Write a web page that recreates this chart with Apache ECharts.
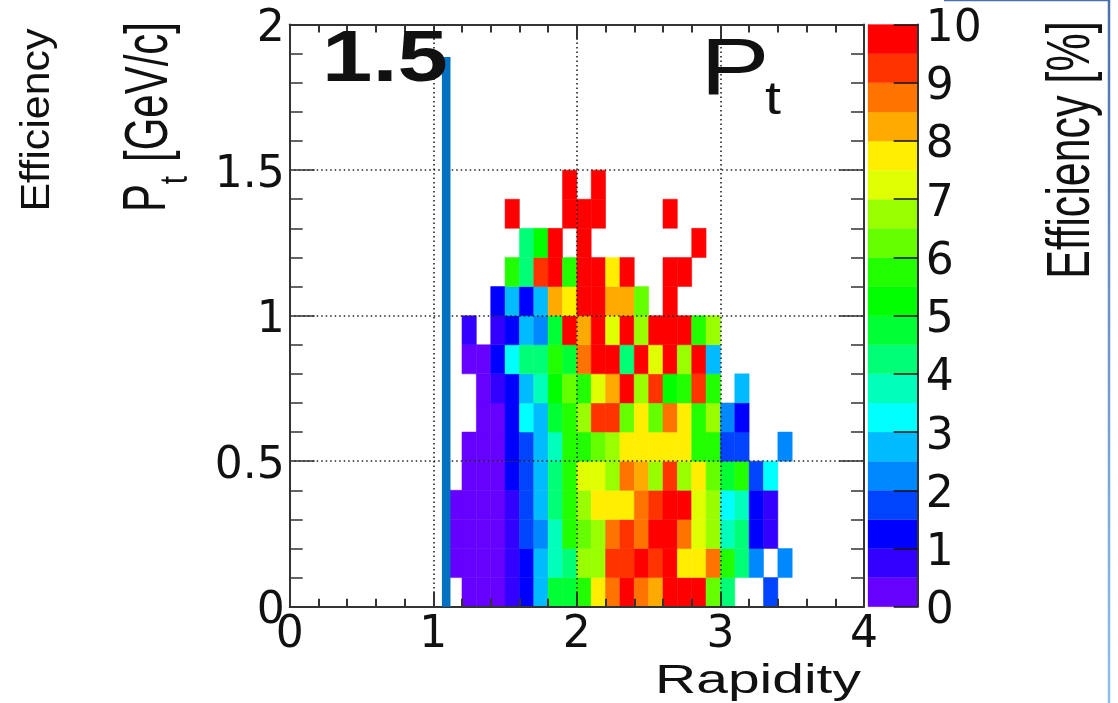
<!DOCTYPE html>
<html>
<head>
<meta charset="utf-8">
<style>html,body{margin:0;padding:0;background:#fff}#c{width:1118px;height:703px;filter:blur(0.5px)}</style>
<script src="https://cdn.jsdelivr.net/npm/echarts@6/dist/echarts.min.js"></script>
</head>
<body>
<div id="c"></div>
<script>
const n = null;
// Bin lower edges (bin width 0.1 on both axes)
const rapidityBins = [1.1,1.2,1.3,1.4,1.5,1.6,1.7,1.8,1.9,2.0,2.1,2.2,2.3,2.4,2.5,2.6,2.7,2.8,2.9,3.0,3.1,3.2,3.3,3.4];
const ptBins = [0,0.1,0.2,0.3,0.4,0.5,0.6,0.7,0.8,0.9,1.0,1.1,1.2,1.3,1.4];
// Efficiency [%] per Pt row, one value per rapidity bin
const eff00 = [n,.25,.25,.25,.75,1.25,2.75,4.75,4.75,5.75,7.75,8.75,9.75,8.75,8.25,9.75,9.75,9.75,6.25,4.25,n,n,1.75,n];
const eff01 = [.25,.25,.25,.25,.75,1.25,2.75,3.75,4.25,6.75,6.75,9.25,9.25,9.75,9.25,9.75,7.75,7.75,8.75,5.75,4.25,2.25,n,2.25];
const eff02 = [.25,.25,.25,.25,.75,1.75,2.25,3.75,5.75,6.25,6.75,8.75,9.25,8.75,9.75,9.75,8.75,7.25,6.75,3.75,4.25,1.25,.75,n];
const eff03 = [.25,.25,.25,.25,.75,1.75,2.75,4.25,5.75,6.75,7.75,7.75,7.75,8.75,9.25,9.75,9.75,7.25,6.75,3.25,3.75,1.25,.75,n];
const eff04 = [n,.25,.25,.25,1.25,1.75,2.75,4.25,5.75,7.25,7.25,6.75,8.75,8.25,6.75,9.25,6.75,7.75,6.25,4.75,5.75,1.75,3.25,n];
const eff05 = [n,.25,.25,.25,1.25,1.75,2.75,3.75,5.75,5.75,6.25,6.75,7.75,7.75,7.75,7.75,7.75,5.75,5.75,1.75,1.75,n,n,2.25];
const eff06 = [n,n,.25,.25,1.25,3.25,2.75,4.75,5.75,6.75,9.25,9.25,6.25,7.75,6.25,8.75,7.75,5.75,6.75,2.25,1.25,n,n,n];
const eff07 = [n,n,.25,.75,1.25,2.75,3.75,5.25,6.25,5.75,7.25,8.25,9.75,6.75,9.25,5.25,5.75,9.25,5.75,n,2.75,n,n,n];
const eff08 = [n,.25,.25,1.25,3.25,4.25,4.25,5.75,4.75,8.75,9.75,9.75,4.25,9.75,7.25,9.75,6.75,9.75,2.75,n,n,n,n,n];
const eff09 = [n,.75,n,.75,1.25,2.75,2.25,4.75,9.75,8.25,9.75,7.25,9.75,6.75,9.75,9.75,9.75,5.75,6.75,n,n,n,n,n];
const eff10 = [n,n,n,1.25,2.75,1.25,2.75,8.25,7.75,9.75,9.75,8.25,8.25,6.25,n,9.75,n,n,n,n,n,n,n,n];
const eff11 = [n,n,n,n,5.75,4.25,9.25,9.75,5.75,9.75,9.75,7.75,9.75,n,n,9.75,9.75,n,n,n,n,n,n,n];
const eff12 = [n,n,n,n,n,4.25,5.25,9.75,n,9.75,n,n,n,n,n,n,n,9.75,n,n,n,n,n,n];
const eff13 = [n,n,n,n,9.75,n,n,n,9.75,9.75,9.75,n,n,n,n,9.75,n,n,n,n,n,n,n,n];
const eff14 = [n,n,n,n,n,n,n,n,9.75,n,9.75,n,n,n,n,n,n,n,n,n,n,n,n,n];
const effRows = [eff00,eff01,eff02,eff03,eff04,eff05,eff06,eff07,eff08,eff09,eff10,eff11,eff12,eff13,eff14];
// Colour bands of the scale, bottom (0) to top (10), each 0.5 wide
const bandColors = ['#6600ff','#3300ff','#0000ff','#0044ff','#0088ff','#00bbff','#00ffff','#00ffbb','#00ff77','#00ff33',
                    '#00ff00','#22ff00','#66ff00','#99ff00','#e0ff00','#ffee00','#ffaa00','#ff7300','#ff3300','#ff0000'];
const bandStarts = [0,.5,1,1.5,2,2.5,3,3.5,4,4.5,5,5.5,6,6.5,7,7.5,8,8.5,9,9.5];
// Vertical marker line (rapidity, Pt)
const markerLine = [[1.09,0],[1.09,1.889]];

const binW = 0.1, bandW = 0.5;
const cells = [];
effRows.forEach((row,j)=>row.forEach((v,i)=>{ if(v!==null) cells.push([rapidityBins[i],ptBins[j],v]); }));
const colorOf = v => bandColors[Math.min(bandColors.length-1,Math.floor(v/bandW))];

const tickFont = {fontFamily:'DejaVu Sans',fontSize:44,color:'#111'};
const axisDark = '#333';
const G = {left:289.7,top:24.6,width:574.3,height:582.1};
const dotted = {show:true,lineStyle:{color:'#222',width:1.6,type:[1.5,3]}};
const shifted = {a:Object.assign({padding:[10,0,0,0]},tickFont)};

function txt(s,x,y,size,o){o=o||{};return {type:'text',x:x,y:y,rotation:o.rot||0,scaleX:o.sx||1,scaleY:o.sy||1,z:20,silent:true,
  style:{text:s,fontFamily:'Liberation Sans',fontSize:size,fontWeight:o.w||'normal',fill:o.c||'#111',align:'center',verticalAlign:'middle'}};}
const R = Math.PI/2;

const chart = echarts.init(document.getElementById('c'));
chart.setOption({
  animation:false,
  backgroundColor:'#fff',
  grid:[
    {left:G.left,top:G.top,width:G.width,height:G.height},
    {left:868,top:G.top,width:49.7,height:G.height}
  ],
  xAxis:[
    {type:'value',gridIndex:0,min:0,max:4,interval:1,position:'bottom',z:3,
     axisLine:{onZero:false,lineStyle:{color:axisDark,width:2}},
     axisTick:{inside:true,length:15,lineStyle:{color:axisDark,width:2}},
     minorTick:{show:true,splitNumber:5,length:8,lineStyle:{color:axisDark,width:2}},
     splitLine:dotted,axisLabel:Object.assign({margin:7,formatter:v=>String(v),showMinLabel:true,showMaxLabel:true},tickFont)},
    {type:'value',gridIndex:0,min:0,max:4,interval:1,position:'top',z:3,
     axisLine:{onZero:false,lineStyle:{color:axisDark,width:2}},
     axisTick:{inside:true,length:15,lineStyle:{color:axisDark,width:2}},
     minorTick:{show:true,splitNumber:5,length:8,lineStyle:{color:axisDark,width:2}},
     splitLine:{show:false},axisLabel:{show:false}},
    {type:'value',gridIndex:1,min:0,max:1,show:false}
  ],
  yAxis:[
    {type:'value',gridIndex:0,min:0,max:2,interval:0.5,position:'left',z:3,
     axisLine:{onZero:false,lineStyle:{color:axisDark,width:2}},
     axisTick:{inside:true,length:25,lineStyle:{color:axisDark,width:1.5}},
     minorTick:{show:true,splitNumber:5,length:13,lineStyle:{color:axisDark,width:1.5}},
     splitLine:dotted,axisLabel:{margin:5,formatter:v=>'{a|'+v+'}',showMinLabel:true,showMaxLabel:true,rich:shifted}},
    {type:'value',gridIndex:0,min:0,max:2,interval:0.5,position:'right',z:3,
     axisLine:{onZero:false,lineStyle:{color:axisDark,width:2}},
     axisTick:{inside:true,length:25,lineStyle:{color:axisDark,width:1.5}},
     minorTick:{show:true,splitNumber:5,length:13,lineStyle:{color:axisDark,width:1.5}},
     splitLine:{show:false},axisLabel:{show:false}},
    {type:'value',gridIndex:1,min:0,max:10,interval:1,position:'right',z:3,
     axisLine:{onZero:false,lineStyle:{color:axisDark,width:2}},
     axisTick:{inside:true,length:24,lineStyle:{color:'#111',width:1.5}},
     splitLine:{show:false},axisLabel:{margin:8,formatter:v=>'{a|'+v+'}',showMinLabel:true,showMaxLabel:true,rich:shifted}}
  ],
  series:[
    {type:'custom',name:'Efficiency',xAxisIndex:0,yAxisIndex:0,z:2,clip:true,data:cells,encode:{x:0,y:1},
     renderItem:(p,api)=>{
       const x=api.value(0),y=api.value(1),v=api.value(2);
       const a=api.coord([x,y+binW]),b=api.coord([x+binW,y]);
       return {type:'rect',shape:{x:a[0],y:a[1],width:b[0]-a[0],height:b[1]-a[1]},style:{fill:colorOf(v),stroke:colorOf(v),lineWidth:0.5}};
     }},
    {type:'line',name:'Marker',xAxisIndex:0,yAxisIndex:0,z:6,data:markerLine,symbol:'none',
     lineStyle:{color:'#0070c0',width:8.6,cap:'butt'}},
    {type:'custom',name:'Scale',xAxisIndex:2,yAxisIndex:2,z:2,data:bandStarts.map((s,i)=>[s,i]),
     renderItem:(p,api)=>{
       const s=api.value(0),i=api.value(1);
       const a=api.coord([0,s+bandW]),b=api.coord([1,s]);
       return {type:'rect',shape:{x:a[0],y:a[1],width:b[0]-a[0],height:b[1]-a[1]},style:{fill:bandColors[i],stroke:bandColors[i],lineWidth:0.3}};
     }}
  ],
  graphic:[
    txt('Efficiency',38,120,43,{rot:R,sy:0.95}),
    txt('P',148,198,42,{rot:R,sy:1.45}),
    txt('t',176,180,30,{rot:R,sy:1.3}),
    txt('[GeV/c]',150,92,42,{rot:R,sy:1.45}),
    txt('Efficiency [%]',1072,150,43,{rot:R,sy:1.4}),
    txt('Rapidity',758,682,41,{sx:1.39}),
    txt('1.5',385,61,73,{w:'bold',sx:1.24}),
    txt('P',735,72,80,{sx:1.3}),
    txt('t',773,101,46,{sx:1.25}),
    {type:'line',z:20,silent:true,shape:{x1:944,y1:0.5,x2:1109,y2:0.5},style:{stroke:'#4a70aa',lineWidth:1.5}},
    {type:'line',z:20,silent:true,shape:{x1:1109,y1:0,x2:1109,y2:703},
     style:{lineWidth:2.5,stroke:new echarts.graphic.LinearGradient(0,0,0,1,[{offset:0,color:'#4a70aa'},{offset:1,color:'#8fc0f0'}],false)}}
  ]
});
</script>
</body>
</html>
